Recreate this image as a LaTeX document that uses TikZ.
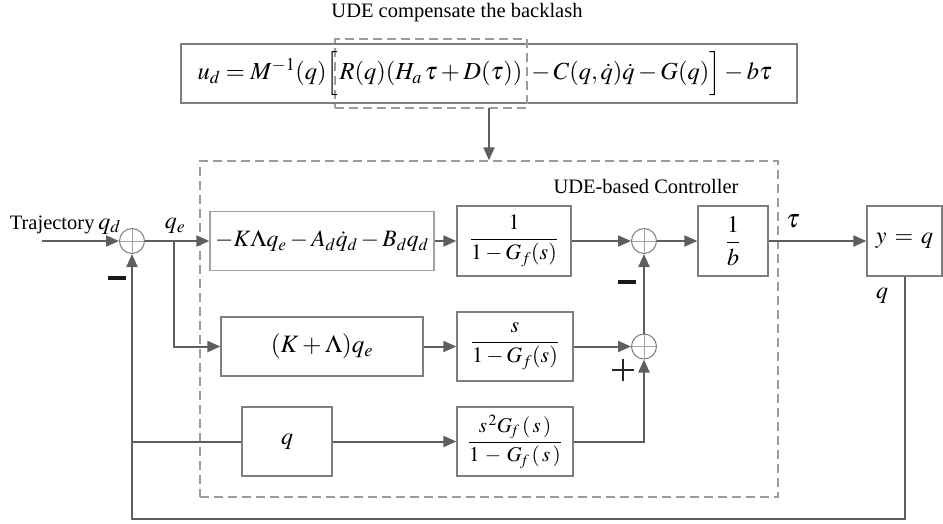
\documentclass[tikz,border=0pt]{standalone}
\usepackage{mathptmx}
\usepackage{fontspec}
\setmainfont{Liberation Serif}
\usetikzlibrary{arrows.meta,calc}

\definecolor{wiregray}{HTML}{5E5E5E}
\definecolor{boxgray}{HTML}{7E7E7E}
\definecolor{lightbox}{HTML}{A2A2A2}
\definecolor{dashgray}{HTML}{9C9C9C}

\newcommand{\mfs}{\fontsize{22}{26}\selectfont}
\newcommand{\lfs}{\fontsize{24}{28}\selectfont}
\newcommand{\tfs}{\fontsize{20.5}{24}\selectfont}
\newcommand{\efs}{\fontsize{24.5}{29}\selectfont}

\tikzset{
  wire/.style={draw=wiregray, line width=2pt},
  feed/.style={wire, -{Triangle[length=13pt,width=11pt]}},
  blockbox/.style={draw=boxgray, line width=1.3pt, inner sep=0pt, align=center},
  region/.style={draw=dashgray, line width=1.3pt, dash pattern=on 9pt off 5pt, inner sep=0pt},
  sumjunction/.style={circle, draw=boxgray, line width=1pt, minimum size=25pt, inner sep=0pt,
    path picture={\draw[boxgray!70, line width=0.8pt]
      (path picture bounding box.north) -- (path picture bounding box.south)
      (path picture bounding box.west) -- (path picture bounding box.east);}},
  signbar/.style={fill=black!90, minimum width=18pt, minimum height=4pt, inner sep=0pt},
  plussign/.style={minimum size=22pt, inner sep=0pt,
    path picture={\draw[black!85, line width=1.4pt]
      (path picture bounding box.north) -- (path picture bounding box.south)
      (path picture bounding box.west) -- (path picture bounding box.east);}},
}

\begin{document}
\begin{tikzpicture}[x=1pt,y=-1pt]
\useasboundingbox (0,0) rectangle (943,523);

% control law with the backlash compensation term
\node[font=\tfs] (title) at (457,13) {UDE compensate the backlash};
\node[blockbox, minimum width=616pt, minimum height=59pt] (law) at (489,73.5) {};
\node[region, minimum width=192pt, minimum height=69pt] (ude) at (431,73.5)
  {\efs$R(q)(H_{a}\,\tau+D(\tau))$};
\node[anchor=base east, inner sep=0pt] (lawL) at ($(ude.base west)+(4,0)$)
  {\efs$u_{d}=M^{-1}(q)\Big[$};
\node[anchor=base west, inner sep=0pt] (lawR) at (ude.base east)
  {\efs${}-C(q,\dot q)\dot q-G(q)\Big]-b\tau$};

% controller region
\node[region, minimum width=578pt, minimum height=336pt] (ctrl) at (489,329) {};
\node[anchor=west, font=\tfs] (ctrllabel) at (550,186) {UDE-based Controller};
\coordinate (udeout) at (489,108);
\draw[feed] (udeout) -- (udeout |- ctrl.north);

% summing junctions
\node[sumjunction] (s1) at (132,241) {};
\node[sumjunction] (s2) at (644,241) {};
\node[sumjunction] (s3) at (644,346.5) {};

% blocks
\node[blockbox, draw=lightbox, minimum width=224pt, minimum height=59pt] (ba) at (322,241)
  {\fontsize{23.5}{28}\selectfont$-K\Lambda q_e-A_d\dot q_d-B_dq_d$};
\node[blockbox, minimum width=114pt, minimum height=70pt] (bb) at (514,241)
  {\mfs$\displaystyle\frac{1}{1-G_f(s)}$};
\node[blockbox, minimum width=70pt, minimum height=70pt] (bc) at (733,241)
  {\lfs$\displaystyle\frac{1}{b}$};
\node[blockbox, minimum width=75pt, minimum height=70pt] (by) at (904.5,241)
  {\lfs$y\mkern2mu=\mkern2mu q$};
\node[blockbox, minimum width=202pt, minimum height=59pt] (bd) at (322,346.5)
  {\fontsize{25}{29}\selectfont$(K+\Lambda)q_e$};
\node[blockbox, minimum width=116pt, minimum height=69pt] (be) at (515,346.5)
  {\mfs$\displaystyle\frac{s}{1-G_f(s)}$};
\node[blockbox, minimum width=90pt, minimum height=69pt] (bf) at (287,441.5)
  {\lfs$q$};
\node[blockbox, minimum width=116pt, minimum height=69pt] (bg) at (515,441.5)
  {\fontsize{21}{25}\selectfont$\displaystyle\frac{s^{\,2}G_{\!f}\,(\,s\,)}{1\,-\,G_{\!f}\,(\,s\,)}$};

% signal labels and signs
\node[anchor=base east, inner sep=0pt] (traj) at (121,229) {{\tfs Trajectory}\kern4pt{\lfs$q_d$}};
\node (qelab) at (175,226) {\lfs$q_e$};
\node (taulab) at (793,221) {\fontsize{26}{30}\selectfont$\tau$};
\node (qlab) at (882,296) {\lfs$q$};
\node[signbar] (neg1) at (117,278) {};
\node[signbar] (neg2) at (627,282) {};
\node[plussign] (pos3) at (623,370) {};

% connectors
\coordinate (start) at (42,241);
\coordinate (qetap) at (174,241);
\coordinate (qtap) at (132,441.5);
\coordinate (fbcorner) at (132,519);
\draw[feed] (start) -- (s1);
\draw[feed] (s1) -- (ba);
\draw[feed] (ba) -- (bb);
\draw[feed] (bb) -- (s2);
\draw[feed] (s2) -- (bc);
\draw[feed] (bc) -- (by);
\draw[feed] (qetap) |- (bd);
\draw[feed] (bd) -- (be);
\draw[feed] (be) -- (s3);
\draw[feed] (s3) -- (s2);
\draw[feed] (bf) -- (bg);
\draw[feed] (bg) -| (s3);
\draw[feed] (by) |- (fbcorner) -- (s1);
\draw[wire] (qtap) -- (bf);
\end{tikzpicture}
\end{document}
